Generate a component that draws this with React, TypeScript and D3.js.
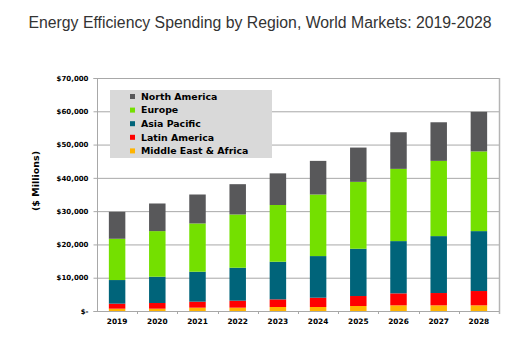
import React, { useEffect, useRef } from "react";
import * as d3 from "d3";

const years = ["2019", "2020", "2021", "2022", "2023", "2024", "2025", "2026", "2027", "2028"];
const regions = ["Middle East & Africa", "Latin America", "Asia Pacific", "Europe", "North America"];
const middleEastAfrica = [700, 700, 1000, 1000, 1200, 1200, 1500, 1700, 1700, 1700];
const latinAmerica = [1500, 1700, 1800, 2100, 2300, 2800, 3000, 3600, 3700, 4300];
const asiaPacific = [7100, 7900, 9000, 9900, 11300, 12500, 14200, 15700, 17100, 18000];
const europe = [12400, 13700, 14500, 16000, 17050, 18500, 20100, 21700, 22600, 23950];
const northAmerica = [8100, 8300, 8700, 9100, 9500, 10100, 10300, 11000, 11600, 11900];
const colors = ["#ffb400", "#ff0000", "#00647a", "#74e000", "#58585a"];
const yTicks = [0, 10000, 20000, 30000, 40000, 50000, 60000, 70000];

const boldFont = "'DejaVu Sans', Verdana, sans-serif";

const App = () => {
  const ref = useRef<SVGSVGElement>(null);

  useEffect(() => {
    const svg = d3.select(ref.current);
    svg.selectAll("*").remove();

    const margin = { top: 78, right: 27, bottom: 40, left: 97 };
    const W = 526;
    const H = 351;
    const width = W - margin.left - margin.right;
    const height = H - margin.top - margin.bottom;

    const series = [middleEastAfrica, latinAmerica, asiaPacific, europe, northAmerica];
    const rows = years.map((y, i) => {
      const r: any = { year: y };
      regions.forEach((k, j) => (r[k] = series[j][i]));
      return r;
    });
    const stacked = d3.stack().keys(regions)(rows);

    const x = d3.scaleBand().domain(years).range([0, width]).paddingInner(0.59).paddingOuter(0.295);
    const y = d3.scaleLinear().domain([0, 70000]).range([height, 0]);

    svg
      .append("text")
      .attr("x", W / 2 - 3)
      .attr("y", 28)
      .attr("text-anchor", "middle")
      .style("font-family", "'Liberation Sans', Arial, sans-serif")
      .style("font-size", "15.8px")
      .attr("fill", "#333")
      .text("Energy Efficiency Spending by Region, World Markets: 2019-2028");

    const g = svg.append("g").attr("transform", `translate(${margin.left},${margin.top})`);

    // gridlines
    g.selectAll(".grid")
      .data(yTicks.slice(1))
      .enter()
      .append("line")
      .attr("x1", 0)
      .attr("x2", width)
      .attr("y1", (d) => y(d) + 0.5)
      .attr("y2", (d) => y(d) + 0.5)
      .attr("stroke", "#a8a8a8")
      .attr("stroke-width", 1);

    // right border
    g.append("line")
      .attr("x1", width + 0.5)
      .attr("x2", width + 0.5)
      .attr("y1", 0)
      .attr("y2", height + 3)
      .attr("stroke", "#b4b4b4")
      .attr("stroke-width", 1.5);

    // bars
    g.selectAll(".layer")
      .data(stacked)
      .enter()
      .append("g")
      .attr("fill", (d, i) => colors[i])
      .selectAll("rect")
      .data((d) => d)
      .enter()
      .append("rect")
      .attr("x", (d: any) => x(d.data.year)!)
      .attr("width", x.bandwidth())
      .attr("y", (d) => y(d[1]))
      .attr("height", (d) => y(d[0]) - y(d[1]));

    // y axis
    const fmt = (v: number) => (v === 0 ? "$-" : "$" + d3.format(",")(v));
    const yAxis = g
      .append("g")
      .attr("transform", "translate(0.5,0)")
      .call(d3.axisLeft(y).tickValues(yTicks).tickFormat(fmt as any).tickSize(4).tickPadding(5));
    yAxis.select(".domain").attr("stroke", "#a8a8a8").attr("d", `M-4,0.5H0V${height + 0.5}H-4`);
    yAxis.selectAll(".tick line").attr("stroke", "#a8a8a8");
    yAxis
      .selectAll("text")
      .style("font-family", boldFont)
      .style("font-size", "7px")
      .style("font-weight", "bold")
      .attr("fill", "#000");

    // x axis
    const xAxis = g
      .append("g")
      .attr("transform", `translate(0,${height + 0.5})`)
      .call(d3.axisBottom(x).tickSize(0).tickPadding(7));
    xAxis.select(".domain").attr("stroke", "#a8a8a8").attr("d", `M0,0H${width}`);
    xAxis
      .selectAll("text")
      .style("font-family", boldFont)
      .style("font-size", "7.4px")
      .style("font-weight", "bold")
      .attr("fill", "#000");
    g.selectAll(".xsep")
      .data(years.slice(1))
      .enter()
      .append("line")
      .attr("x1", (d) => Math.round(x(d)! - (x.step() - x.bandwidth()) / 2) + 0.5)
      .attr("x2", (d) => Math.round(x(d)! - (x.step() - x.bandwidth()) / 2) + 0.5)
      .attr("y1", height)
      .attr("y2", height + 3)
      .attr("stroke", "#a8a8a8");

    // y title
    svg
      .append("text")
      .attr("transform", `translate(39,181) rotate(-90)`)
      .attr("text-anchor", "middle")
      .style("font-family", boldFont)
      .style("font-size", "9.5px")
      .style("font-weight", "bold")
      .text("($ Millions)");

    // legend
    const leg = svg.append("g").attr("transform", "translate(110,90)");
    leg.append("rect").attr("width", 162).attr("height", 68).attr("fill", "#d9d9d9");
    const legendOrder = [4, 3, 2, 1, 0];
    legendOrder.forEach((si, i) => {
      const cy = 6.5 + i * 13.6;
      leg.append("rect").attr("x", 20).attr("y", cy - 2.5).attr("width", 5).attr("height", 5).attr("fill", colors[si]);
      leg
        .append("text")
        .attr("x", 31)
        .attr("y", cy)
        .attr("dy", "0.35em")
        .style("font-family", boldFont)
        .style("font-size", "9.4px")
        .style("font-weight", "bold")
        .text(regions[si]);
    });
  }, []);

  return <svg ref={ref} width={526} height={351} style={{ position: "absolute", left: 0, top: 0 }}></svg>;
};

export default App;
